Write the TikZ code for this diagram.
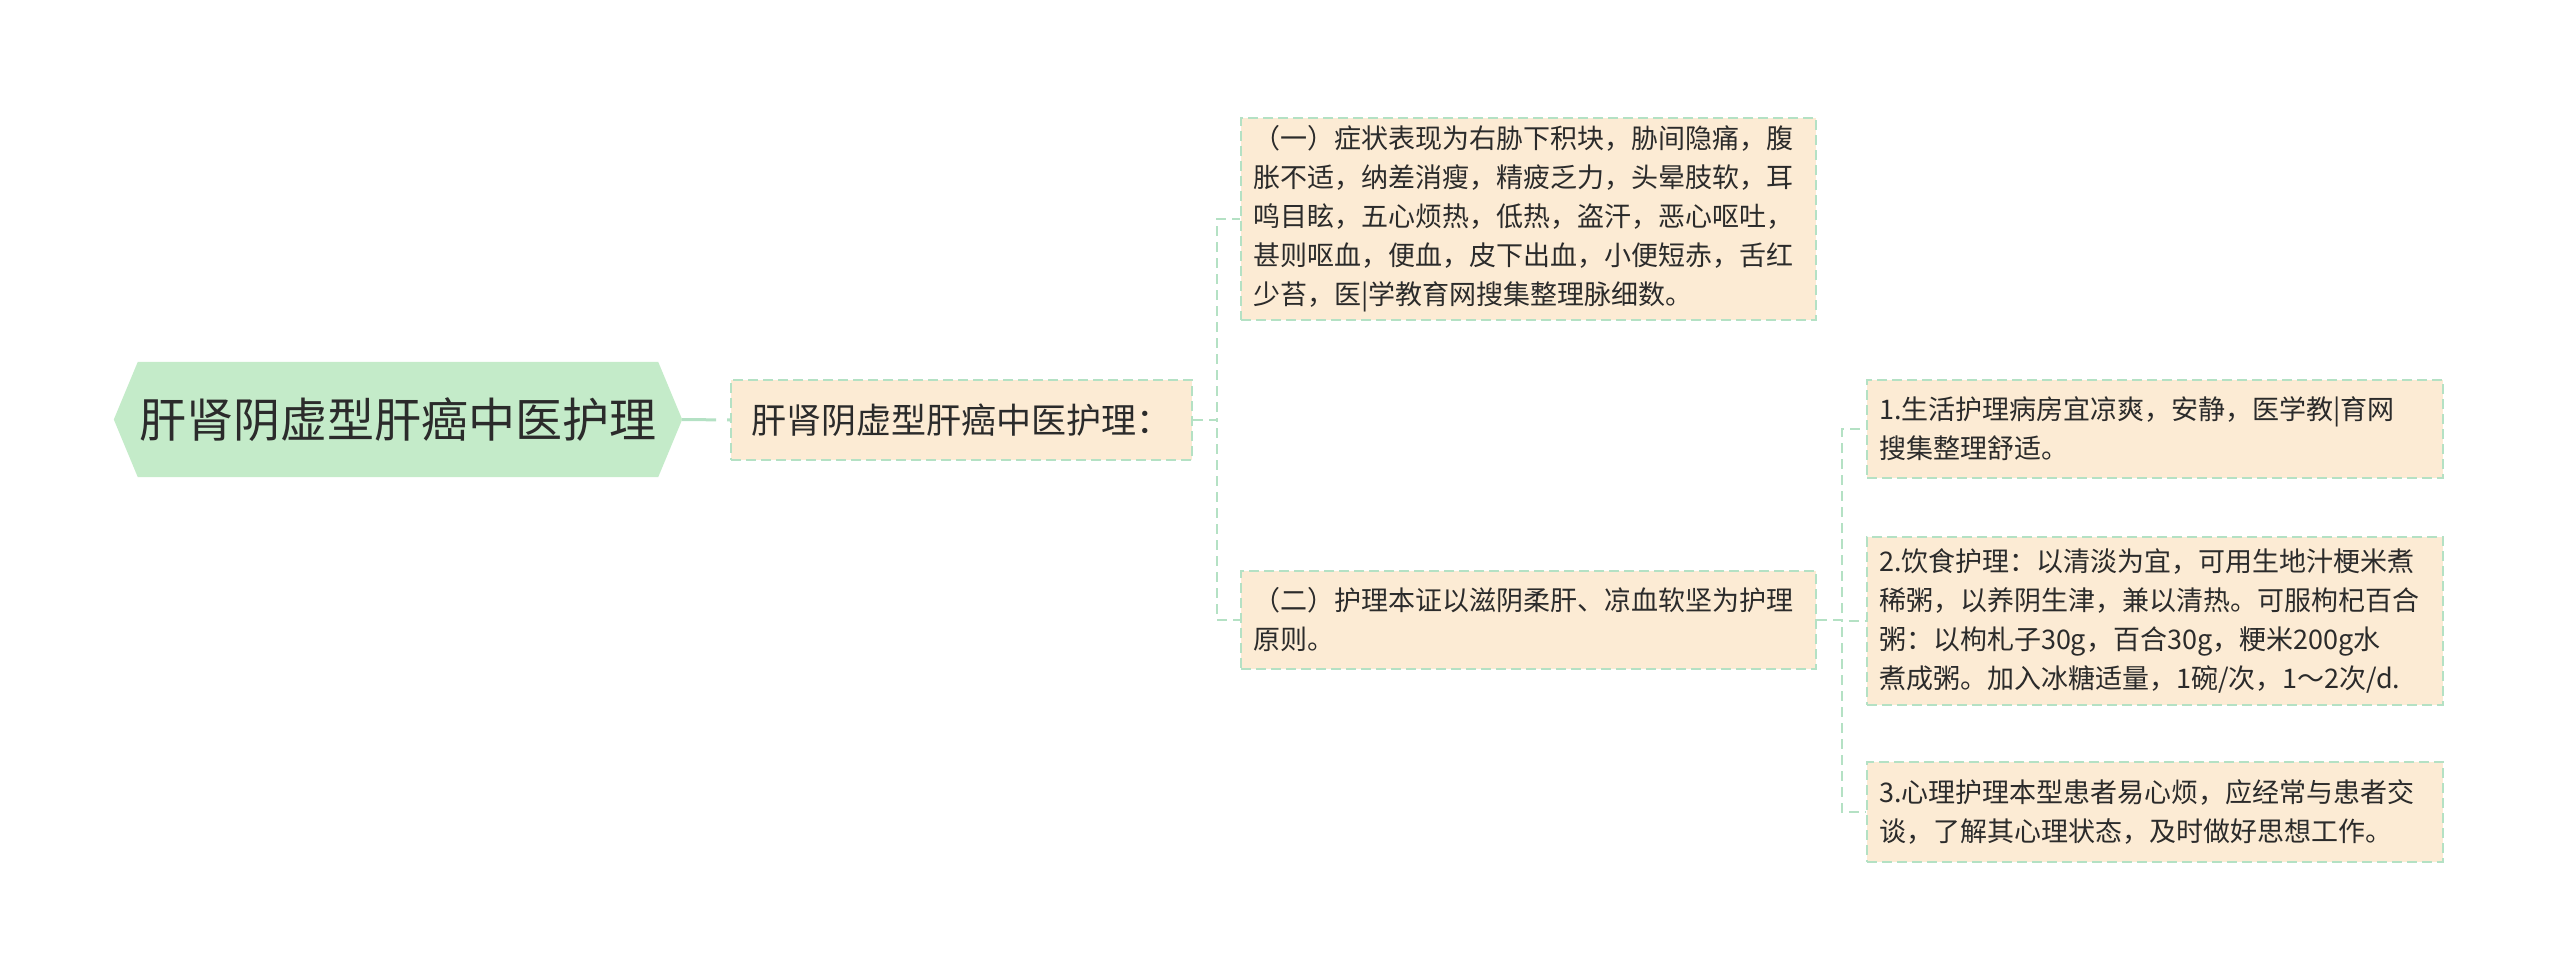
\documentclass[tikz,border=0pt]{standalone}
\usepackage{fontspec}
\setmainfont{Noto Sans CJK SC}
\definecolor{rootgreen}{HTML}{C4EBC9}
\definecolor{peach}{HTML}{FCEBD4}
\definecolor{lineclr}{HTML}{B4E1C4}
\definecolor{txt}{HTML}{2B2B2B}
\tikzset{
  box/.style={draw=lineclr, line width=2pt, dash pattern=on 10pt off 5pt, fill=peach, text=txt,
    font=\fontsize{27pt}{39pt}\selectfont, align=left, inner xsep=12pt, inner ysep=0pt},
  conn/.style={draw=lineclr, line width=2pt, dash pattern=on 10pt off 6pt},
  rootline/.style={draw=lineclr, line width=3pt, dash pattern=on 34pt off 11pt on 20pt off 100pt},
}
\begin{document}
\begin{tikzpicture}[x=1pt,y=-1pt]
\useasboundingbox (0,0) rectangle (2560,979);
% root
\node[minimum width=568pt, minimum height=115pt, inner sep=0pt] (root) at (398,419.5) {};
\fill[rootgreen] (root.west) -- ([xshift=24pt]root.north west) -- ([xshift=-24pt]root.north east)
  -- (root.east) -- ([xshift=-24pt]root.south east) -- ([xshift=24pt]root.south west) -- cycle;
\node[text=txt, font=\fontsize{47pt}{56pt}\selectfont] at (root.center) {肝肾阴虚型肝癌中医护理};
% level 1
\node[box, align=center, font=\fontsize{35pt}{42pt}\selectfont, minimum width=461pt, minimum height=80pt] (n2) at (961.5,420) {肝肾阴虚型肝癌中医护理：};
% level 2
\node[box, text width=551pt, minimum height=202pt] (b1) at (1528.5,219)
 {（一）症状表现为右胁下积块，胁间隐痛，腹\\胀不适，纳差消瘦，精疲乏力，头晕肢软，耳\\鸣目眩，五心烦热，低热，盗汗，恶心呕吐，\\甚则呕血，便血，皮下出血，小便短赤，舌红\\少苔，医|学教育网搜集整理脉细数。};
\node[box, text width=551pt, minimum height=98pt] (b2) at (1528.5,620)
 {（二）护理本证以滋阴柔肝、凉血软坚为护理\\原则。};
% level 3
\node[box, text width=552pt, minimum height=98pt] (ba) at (2155,429)
 {1.生活护理病房宜凉爽，安静，医学教|育网\\搜集整理舒适。};
\node[box, text width=552pt, minimum height=168pt] (bb) at (2155,620.5)
 {2.饮食护理：以清淡为宜，可用生地汁梗米煮\\稀粥，以养阴生津，兼以清热。可服枸杞百合\\粥：以枸札子30g，百合30g，粳米200g水\\煮成粥。加入冰糖适量，1碗/次，1～2次/d.};
\node[box, text width=552pt, minimum height=100pt] (bc) at (2155,812)
 {3.心理护理本型患者易心烦，应经常与患者交\\谈，了解其心理状态，及时做好思想工作。};
% connectors
\draw[rootline] (root.east) -- (n2.west);
\draw[conn] (n2.east) -- ++(24pt,0pt) |- (b1.west);
\draw[conn] (n2.east) -- ++(24pt,0pt) |- (b2.west);
\draw[conn] (b2.east) -- ++(25pt,0pt) |- (ba.west);
\draw[conn] (b2.east) -- ++(25pt,0pt) |- (bb.west);
\draw[conn] (b2.east) -- ++(25pt,0pt) |- (bc.west);
\end{tikzpicture}
\end{document}
